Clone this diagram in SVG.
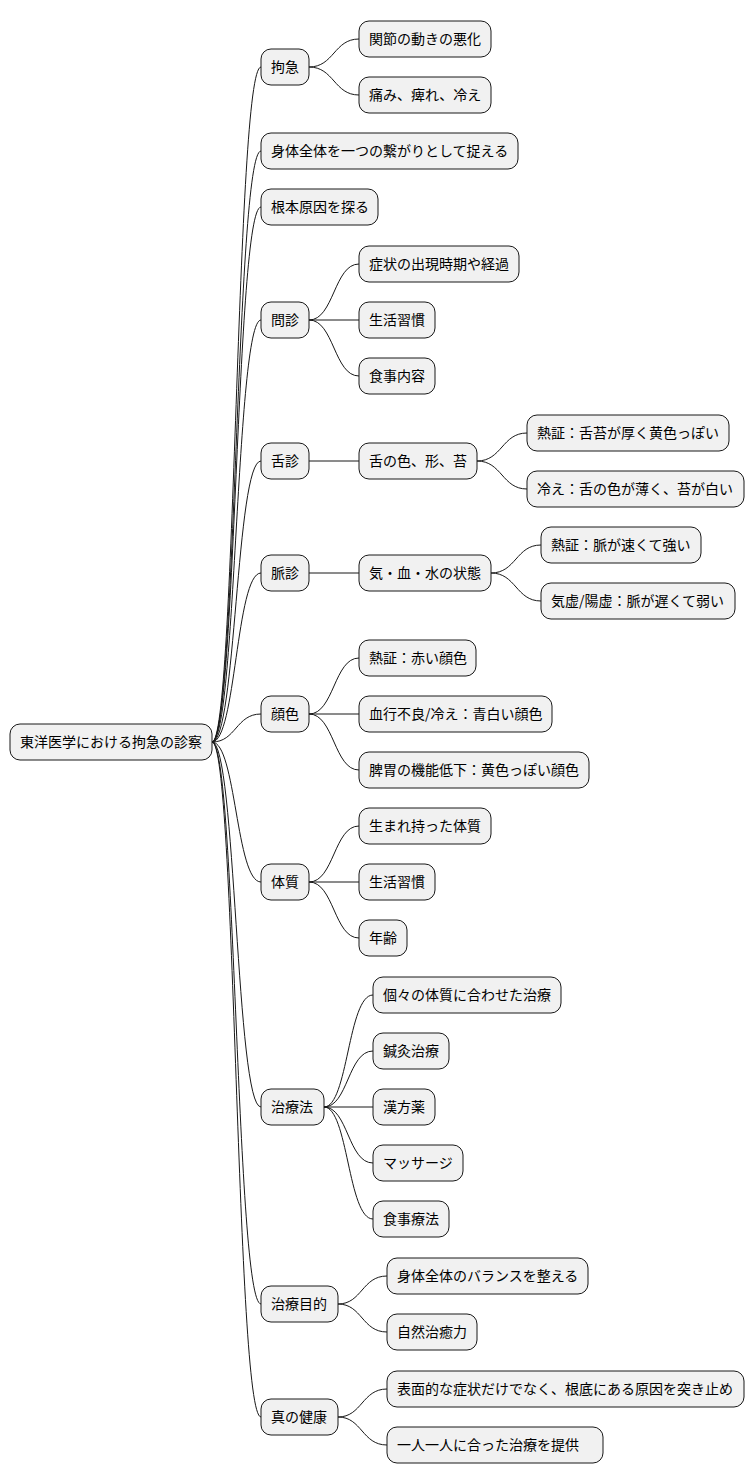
<svg xmlns="http://www.w3.org/2000/svg" width="754" height="1484" viewBox="0 0 754 1484">
<style>
rect{fill:#f1f1f1;stroke:#181818;stroke-width:1}
text{font-family:"Noto Sans CJK JP",sans-serif;font-size:14px;fill:#000}
#c path{fill:none;stroke:#181818;stroke-width:1}
</style>
<rect x="0" y="0" width="754" height="1484" style="fill:#fff;stroke:none"/>
<g id="c">
<path d="M212,742 C236,742 236,67 261,67"/>
<path d="M212,742 C236,742 236,151 261,151"/>
<path d="M212,742 C236,742 236,207 261,207"/>
<path d="M212,742 C236,742 236,320 261,320"/>
<path d="M212,742 C236,742 236,461 261,461"/>
<path d="M212,742 C236,742 236,573 261,573"/>
<path d="M212,742 C236,742 236,714 261,714"/>
<path d="M212,742 C236,742 236,882 261,882"/>
<path d="M212,742 C236,742 236,1107 261,1107"/>
<path d="M212,742 C236,742 236,1304 261,1304"/>
<path d="M212,742 C236,742 236,1417 261,1417"/>
<path d="M309,67 C334,67 334,39 359,39"/>
<path d="M309,67 C334,67 334,95 359,95"/>
<path d="M309,320 C334,320 334,264 359,264"/>
<path d="M309,320 L359,320"/>
<path d="M309,320 C334,320 334,376 359,376"/>
<path d="M309,461 L359,461"/>
<path d="M309,573 L359,573"/>
<path d="M309,714 C334,714 334,658 359,658"/>
<path d="M309,714 L359,714"/>
<path d="M309,714 C334,714 334,770 359,770"/>
<path d="M309,882 C334,882 334,826 359,826"/>
<path d="M309,882 L359,882"/>
<path d="M309,882 C334,882 334,938 359,938"/>
<path d="M324,1107 C348,1107 348,995 373,995"/>
<path d="M324,1107 C348,1107 348,1051 373,1051"/>
<path d="M324,1107 L373,1107"/>
<path d="M324,1107 C348,1107 348,1163 373,1163"/>
<path d="M324,1107 C348,1107 348,1219 373,1219"/>
<path d="M338,1304 C362,1304 362,1276 387,1276"/>
<path d="M338,1304 C362,1304 362,1332 387,1332"/>
<path d="M338,1417 C362,1417 362,1389 387,1389"/>
<path d="M338,1417 C362,1417 362,1445 387,1445"/>
<path d="M477,461 C502,461 502,433 527,433"/>
<path d="M477,461 C502,461 502,489 527,489"/>
<path d="M491,573 C516,573 516,545 541,545"/>
<path d="M491,573 C516,573 516,601 541,601"/>
</g>
<g id="root"><rect x="10" y="724" width="202" height="36" rx="10"/><text x="20" y="747">東洋医学における拘急の診察</text></g>
<g id="n1"><rect x="261" y="49" width="48" height="36" rx="10"/><text x="271" y="72">拘急</text></g>
<g id="n2"><rect x="261" y="133" width="257" height="36" rx="10"/><text x="271" y="156">身体全体を一つの繋がりとして捉える</text></g>
<g id="n3"><rect x="261" y="189" width="117" height="36" rx="10"/><text x="271" y="212">根本原因を探る</text></g>
<g id="n4"><rect x="261" y="302" width="48" height="36" rx="10"/><text x="271" y="325">問診</text></g>
<g id="n5"><rect x="261" y="443" width="48" height="36" rx="10"/><text x="271" y="466">舌診</text></g>
<g id="n6"><rect x="261" y="555" width="48" height="36" rx="10"/><text x="271" y="578">脈診</text></g>
<g id="n7"><rect x="261" y="696" width="48" height="36" rx="10"/><text x="271" y="719">顔色</text></g>
<g id="n8"><rect x="261" y="864" width="48" height="36" rx="10"/><text x="271" y="887">体質</text></g>
<g id="n9"><rect x="261" y="1089" width="63" height="36" rx="10"/><text x="271" y="1112">治療法</text></g>
<g id="n10"><rect x="261" y="1286" width="77" height="36" rx="10"/><text x="271" y="1309">治療目的</text></g>
<g id="n11"><rect x="261" y="1399" width="77" height="36" rx="10"/><text x="271" y="1422">真の健康</text></g>
<g id="n1a"><rect x="359" y="21" width="132" height="36" rx="10"/><text x="369" y="44">関節の動きの悪化</text></g>
<g id="n1b"><rect x="359" y="77" width="132" height="36" rx="10"/><text x="369" y="100">痛み、痺れ、冷え</text></g>
<g id="n4a"><rect x="359" y="246" width="160" height="36" rx="10"/><text x="369" y="269">症状の出現時期や経過</text></g>
<g id="n4b"><rect x="359" y="302" width="76" height="36" rx="10"/><text x="369" y="325">生活習慣</text></g>
<g id="n4c"><rect x="359" y="358" width="76" height="36" rx="10"/><text x="369" y="381">食事内容</text></g>
<g id="n5a"><rect x="359" y="443" width="118" height="36" rx="10"/><text x="369" y="466">舌の色、形、苔</text></g>
<g id="n5a1"><rect x="527" y="415" width="202" height="36" rx="10"/><text x="537" y="438">熱証：舌苔が厚く黄色っぽい</text></g>
<g id="n5a2"><rect x="527" y="471" width="217" height="36" rx="10"/><text x="537" y="494">冷え：舌の色が薄く、苔が白い</text></g>
<g id="n6a"><rect x="359" y="555" width="132" height="36" rx="10"/><text x="369" y="578">気・血・水の状態</text></g>
<g id="n6a1"><rect x="541" y="527" width="160" height="36" rx="10"/><text x="551" y="550">熱証：脈が速くて強い</text></g>
<g id="n6a2"><rect x="541" y="583" width="194" height="36" rx="10"/><text x="551" y="606">気虚/陽虚：脈が遅くて弱い</text></g>
<g id="n7a"><rect x="359" y="640" width="117" height="36" rx="10"/><text x="369" y="663">熱証：赤い顔色</text></g>
<g id="n7b"><rect x="359" y="696" width="193" height="36" rx="10"/><text x="369" y="719">血行不良/冷え：青白い顔色</text></g>
<g id="n7c"><rect x="359" y="752" width="230" height="36" rx="10"/><text x="369" y="775">脾胃の機能低下：黄色っぽい顔色</text></g>
<g id="n8a"><rect x="359" y="808" width="132" height="36" rx="10"/><text x="369" y="831">生まれ持った体質</text></g>
<g id="n8b"><rect x="359" y="864" width="76" height="36" rx="10"/><text x="369" y="887">生活習慣</text></g>
<g id="n8c"><rect x="359" y="920" width="48" height="36" rx="10"/><text x="369" y="943">年齢</text></g>
<g id="n9a"><rect x="373" y="977" width="188" height="36" rx="10"/><text x="383" y="1000">個々の体質に合わせた治療</text></g>
<g id="n9b"><rect x="373" y="1033" width="76" height="36" rx="10"/><text x="383" y="1056">鍼灸治療</text></g>
<g id="n9c"><rect x="373" y="1089" width="62" height="36" rx="10"/><text x="383" y="1112">漢方薬</text></g>
<g id="n9d"><rect x="373" y="1145" width="90" height="36" rx="10"/><text x="383" y="1168">マッサージ</text></g>
<g id="n9e"><rect x="373" y="1201" width="76" height="36" rx="10"/><text x="383" y="1224">食事療法</text></g>
<g id="n10a"><rect x="387" y="1258" width="201" height="36" rx="10"/><text x="397" y="1281">身体全体のバランスを整える</text></g>
<g id="n10b"><rect x="387" y="1314" width="90" height="36" rx="10"/><text x="397" y="1337">自然治癒力</text></g>
<g id="n11a"><rect x="387" y="1371" width="357" height="36" rx="10"/><text x="397" y="1394">表面的な症状だけでなく、根底にある原因を突き止め</text></g>
<g id="n11b"><rect x="387" y="1427" width="216" height="36" rx="10"/><text x="397" y="1450">一人一人に合った治療を提供</text></g>
</svg>
